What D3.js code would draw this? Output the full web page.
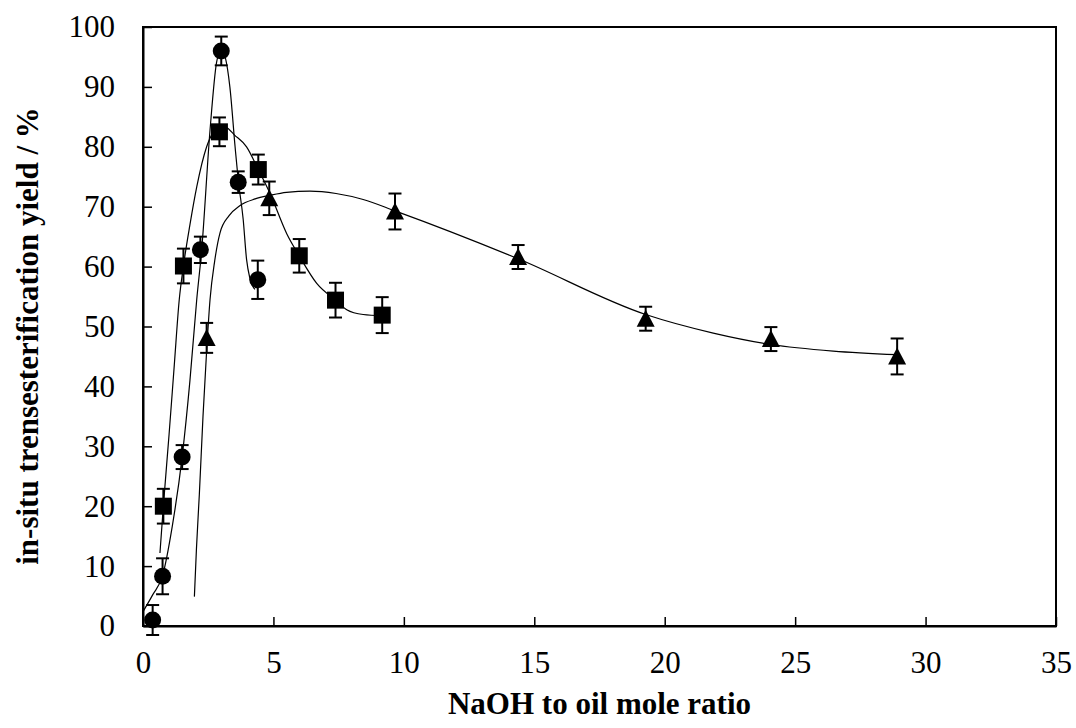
<!DOCTYPE html>
<html>
<head>
<meta charset="utf-8">
<script src="https://cdn.jsdelivr.net/npm/d3@7"></script>
<style>
  body { margin: 0; background: #fff; }
  text { font-family: "Liberation Serif", "Times New Roman", serif; fill: #000; }
</style>
</head>
<body>
<div id="viz"></div>
<script>
const width = 1076;
const height = 728;
const marginLeft = 143;
const marginRight = 20;
const marginTop = 27;
const marginBottom = 102;

// measured points (circle / square / triangle series)
const circleX = [0.37, 0.75, 1.5, 2.2, 3.0, 3.65, 4.4];
const circleY = [1.0, 8.3, 28.2, 62.8, 96.0, 74.1, 57.8];
const circleErr = [2.5, 3.0, 2.0, 2.2, 2.4, 1.8, 3.2];

const squareX = [0.78, 1.55, 2.93, 4.42, 5.99, 7.38, 9.17];
const squareY = [20.0, 60.1, 82.5, 76.2, 61.8, 54.4, 51.9];
const squareErr = [2.9, 2.9, 2.4, 2.5, 2.8, 2.9, 3.0];

const triX = [2.44, 4.84, 9.66, 14.38, 19.27, 24.07, 28.91];
const triY = [48.1, 71.4, 69.2, 61.6, 51.3, 47.9, 45.0];
const triErr = [2.5, 2.8, 3.0, 2.0, 2.0, 2.0, 3.0];

// fitted trend lines
const circleFitX = [0, 0.37, 0.75, 1.12, 1.5, 1.8, 2.06, 2.25, 2.57, 2.82, 3.0, 3.15, 3.33, 3.53, 3.65, 3.84, 3.97, 4.1, 4.29];
const circleFitY = [2.4, 5.2, 8.4, 16.6, 28.2, 41, 54.5, 62.8, 82.8, 94.1, 96.3, 95, 90, 80, 74.5, 67.9, 61.2, 58, 56.2];

const squareFitX = [0.65, 0.78, 1.0, 1.2, 1.39, 1.55, 1.8, 2.06, 2.44, 2.7, 2.93, 3.2, 3.5, 3.97, 4.42, 4.87, 5.51, 5.99, 6.66, 7.38, 7.81, 8.44, 9.17];
const squareFitY = [12.2, 20, 32, 43.6, 54.5, 60.1, 67, 73.3, 80, 82.5, 83.4, 83.2, 82, 80, 76.2, 72.2, 65.5, 61.8, 57.2, 54.4, 52.8, 52, 51.8];

const triFitX = [1.97, 2.05, 2.16, 2.3, 2.44, 2.57, 2.75, 2.95, 3.3, 3.72, 4.3, 4.87, 5.5, 6.4, 7.4, 8.44, 9.66, 14.38, 19.27, 21.86, 24.07, 26.46, 28.91];
const triFitY = [4.9, 13, 22, 35, 46, 54.5, 61, 65.6, 68.5, 70.2, 71.3, 71.9, 72.4, 72.6, 72.2, 71.2, 69.3, 61.3, 52.0, 48.9, 47.0, 45.9, 45.3];

const xTicks = [0, 5, 10, 15, 20, 25, 30, 35];
const yTicks = [0, 10, 20, 30, 40, 50, 60, 70, 80, 90, 100];

const xLabel = 'NaOH to oil mole ratio';
const yLabel = 'in-situ trensesterification yield / %';

const zip = (xs, ys, es) => xs.map((x, i) => ({ x: x, y: ys[i], e: es ? es[i] : 0 }));

const svg = d3
  .select('#viz')
  .append('svg')
  .attr('width', width)
  .attr('height', height);

const xScale = d3.scaleLinear().domain([0, 35]).range([marginLeft, width - marginRight]);
const yScale = d3.scaleLinear().domain([0, 100]).range([height - marginBottom, marginTop]);

// axes, ticks pointing inward
const xAxis = d3.axisBottom(xScale).tickValues(xTicks).tickSizeInner(-9).tickSizeOuter(0).tickPadding(25);
const yAxis = d3.axisLeft(yScale).tickValues(yTicks).tickSizeInner(-9).tickSizeOuter(0).tickPadding(28);

const gx = svg.append('g')
  .attr('transform', `translate(0, ${height - marginBottom})`)
  .call(xAxis);
const gy = svg.append('g')
  .attr('transform', `translate(${marginLeft}, 0)`)
  .call(yAxis);

[gx, gy].forEach((g) => {
  g.selectAll('path').attr('stroke', '#000').attr('stroke-width', 2);
  g.selectAll('line').attr('stroke', '#000').attr('stroke-width', 1.5);
  g.selectAll('text').attr('font-size', 31).attr('font-family', '"Liberation Serif", serif').attr('fill', '#000');
});

// frame
svg.append('rect')
  .attr('x', xScale(0))
  .attr('y', yScale(100))
  .attr('width', xScale(35) - xScale(0))
  .attr('height', yScale(0) - yScale(100))
  .attr('fill', 'none')
  .attr('stroke', '#000')
  .attr('stroke-width', 2);

// trend lines
const line = d3.line()
  .x((d) => xScale(d.x))
  .y((d) => yScale(d.y))
  .curve(d3.curveMonotoneX);

[[circleFitX, circleFitY], [squareFitX, squareFitY], [triFitX, triFitY]].forEach(([xs, ys]) => {
  svg.append('path')
    .datum(zip(xs, ys))
    .attr('d', line)
    .attr('fill', 'none')
    .attr('stroke', '#000')
    .attr('stroke-width', 1.2);
});

// error bars
function drawErrors(data) {
  const g = svg.append('g').attr('stroke', '#000').attr('stroke-width', 2);
  data.forEach((d) => {
    const cx = xScale(d.x);
    const y1 = yScale(d.y + d.e);
    const y0 = yScale(d.y - d.e);
    g.append('line').attr('x1', cx).attr('x2', cx).attr('y1', y1).attr('y2', y0);
    g.append('line').attr('x1', cx - 6.5).attr('x2', cx + 6.5).attr('y1', y1).attr('y2', y1);
    g.append('line').attr('x1', cx - 6.5).attr('x2', cx + 6.5).attr('y1', y0).attr('y2', y0);
  });
}

const circles = zip(circleX, circleY, circleErr);
const squares = zip(squareX, squareY, squareErr);
const triangles = zip(triX, triY, triErr);

drawErrors(circles);
drawErrors(squares);
drawErrors(triangles);

svg.append('g')
  .selectAll('circle')
  .data(circles)
  .join('circle')
  .attr('cx', (d) => xScale(d.x))
  .attr('cy', (d) => yScale(d.y))
  .attr('r', 8.5)
  .attr('fill', '#000');

svg.append('g')
  .selectAll('rect')
  .data(squares)
  .join('rect')
  .attr('x', (d) => xScale(d.x) - 8.5)
  .attr('y', (d) => yScale(d.y) - 8.5)
  .attr('width', 17)
  .attr('height', 17)
  .attr('fill', '#000');

svg.append('g')
  .selectAll('path')
  .data(triangles)
  .join('path')
  .attr('d', (d) => {
    const cx = xScale(d.x), cy = yScale(d.y);
    return `M${cx},${cy - 9}L${cx + 9},${cy + 8}L${cx - 9},${cy + 8}Z`;
  })
  .attr('fill', '#000');

// axis titles
svg.append('text')
  .attr('x', (xScale(0) + xScale(35)) / 2)
  .attr('y', 714)
  .attr('text-anchor', 'middle')
  .attr('font-size', 31)
  .attr('font-weight', 'bold')
  .text(xLabel);

svg.append('text')
  .attr('transform', `translate(38, 336) rotate(-90)`)
  .attr('text-anchor', 'middle')
  .attr('font-size', 31)
  .attr('font-weight', 'bold')
  .text(yLabel);
</script>
</body>
</html>
